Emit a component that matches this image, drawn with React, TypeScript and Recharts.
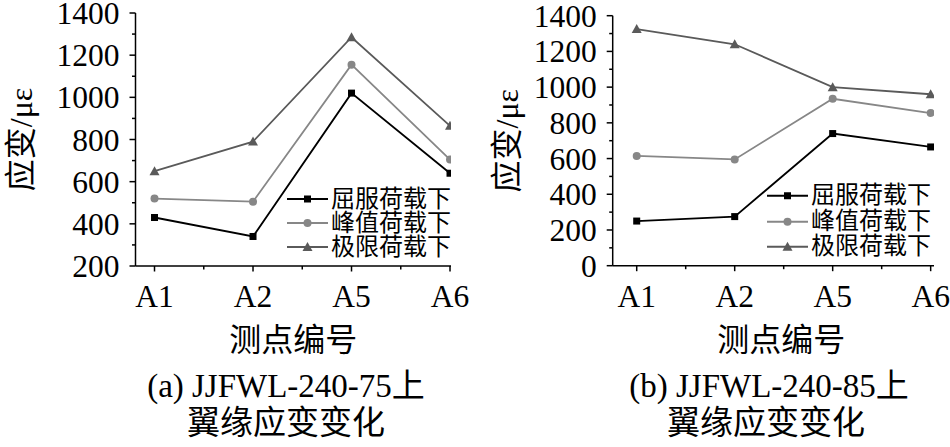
import React from 'react';
import { LineChart, Line, XAxis, YAxis, Legend, Label } from 'recharts';

const categories = ['A1', 'A2', 'A5', 'A6'];
const seriesNames = ['屈服荷载下', '峰值荷载下', '极限荷载下'];
const leftYield = [430, 340, 1020, 640];
const leftPeak = [520, 505, 1155, 705];
const leftUltimate = [650, 790, 1285, 865];
const rightYield = [250, 275, 740, 665];
const rightPeak = [615, 595, 935, 855];
const rightUltimate = [1325, 1240, 1000, 960];
const leftYTicks = [200, 300, 400, 500, 600, 700, 800, 900, 1000, 1100, 1200, 1300, 1400];
const rightYTicks = [0, 100, 200, 300, 400, 500, 600, 700, 800, 900, 1000, 1100, 1200, 1300, 1400];
const xTicks = [1, 1.5, 2, 2.5, 3, 3.5, 4];
const xTitle = '测点编号';
const yTitle = '应变/με';
const captionA = ['(a) JJFWL-240-75上', '翼缘应变变化'];
const captionB = ['(b) JJFWL-240-85上', '翼缘应变变化'];

const FONT = '"Liberation Serif", "Times New Roman", "Noto Sans CJK SC", serif';
const COLORS: Record<string, string> = { yield: '#000000', peak: '#878787', ultimate: '#5a5a5a' };
const KINDS: Record<string, string> = { yield: 'square', peak: 'circle', ultimate: 'triangle' };

const Marker = ({ kind, cx, cy, color }: any) => {
  if (cx == null || cy == null) return <g />;
  if (kind === 'square') return <rect x={cx - 3.5} y={cy - 3.5} width={7} height={7} fill={color} />;
  if (kind === 'circle') return <circle cx={cx} cy={cy} r={4} fill={color} />;
  return <polygon points={`${cx},${cy - 5} ${cx + 5},${cy + 4} ${cx - 5},${cy + 4}`} fill={color} />;
};

const buildData = (a: number[], b: number[], c: number[]) =>
  categories.map((cat, i) => ({ x: i + 1, cat, yield: a[i], peak: b[i], ultimate: c[i] }));

const YTick = (props: any) => {
  const { x, y, payload } = props;
  const v = payload.value;
  const major = v % 200 === 0;
  return (
    <g>
      <line x1={x - (major ? 6 : 3.5)} x2={x} y1={y} y2={y} stroke="#000" strokeWidth={1.5} />
      {major && (
        <text x={x - 16} y={y} dy="0.35em" textAnchor="end" fontSize={31.5} fontFamily={FONT} fill="#000">
          {v}
        </text>
      )}
    </g>
  );
};

const XTick = (props: any) => {
  const { x, y, payload } = props;
  const v = payload.value;
  const major = Number.isInteger(v);
  return (
    <g>
      <line x1={x} x2={x} y1={y} y2={y + (major ? 5.5 : 3.5)} stroke="#000" strokeWidth={1.5} />
      {major && (
        <text x={x} y={y + 41} textAnchor="middle" fontSize={31.5} fontFamily={FONT} fill="#000">
          {categories[v - 1]}
        </text>
      )}
    </g>
  );
};

const LegendContent = ({ payload, rowH }: any) => (
  <div style={{ fontFamily: FONT }}>
    {(payload || []).map((entry: any) => {
      const key = entry.dataKey as string;
      return (
        <div key={key} style={{ display: 'flex', alignItems: 'center', height: rowH }}>
          <svg width={44} height={rowH} style={{ display: 'block' }}>
            <line x1={0} x2={41} y1={rowH / 2} y2={rowH / 2} stroke={COLORS[key]} strokeWidth={1.8} />
            <Marker kind={KINDS[key]} cx={20.5} cy={rowH / 2} color={COLORS[key]} />
          </svg>
          <span style={{ fontSize: 24, lineHeight: `${rowH}px`, color: '#000', whiteSpace: 'nowrap' }}>{entry.value}</span>
        </div>
      );
    })}
  </div>
);

const Panel = ({ data, yTicks, yDomain, xDomain, margin, yWidth, legendPos, rowH, yTitleX, xTitleDx }: any) => (
  <LineChart width={470} height={447} data={data} margin={margin}>
    <XAxis
      dataKey="x"
      type="number"
      domain={xDomain}
      ticks={xTicks}
      interval={0}
      tick={<XTick />}
      tickLine={false}
      tickSize={0}
      tickMargin={0}
      height={447 - margin.top - (margin.plotH as number)}
      axisLine={{ stroke: '#000', strokeWidth: 1.5 }}
      allowDataOverflow
    >
      <Label
        content={(p: any) => {
          const vb = p.viewBox;
          return (
            <text x={vb.x + vb.width / 2 + xTitleDx} y={vb.y + 74} textAnchor="middle" dominantBaseline="central" fontSize={32} fontFamily={FONT} fill="#000">
              {xTitle}
            </text>
          );
        }}
      />
    </XAxis>
    <YAxis
      type="number"
      domain={yDomain}
      ticks={yTicks}
      interval={0}
      tick={<YTick />}
      tickLine={false}
      tickSize={0}
      tickMargin={0}
      width={yWidth}
      axisLine={{ stroke: '#000', strokeWidth: 1.5 }}
      allowDataOverflow
    >
      <Label
        content={(p: any) => {
          const vb = p.viewBox;
          const cy = vb.y + vb.height / 2;
          return (
            <text x={yTitleX} y={cy} transform={`rotate(-90 ${yTitleX} ${cy})`} textAnchor="middle" dominantBaseline="central" fontSize={32} fontFamily={FONT} fill="#000">
              {yTitle}
            </text>
          );
        }}
      />
    </YAxis>
    <Legend
      layout="vertical"
      align="center"
      verticalAlign="middle"
      wrapperStyle={{ position: 'absolute', left: legendPos.left, top: legendPos.top, width: 190 }}
      content={(p: any) => <LegendContent payload={p.payload} rowH={rowH} />}
    />
    {['yield', 'peak', 'ultimate'].map((k, i) => (
      <Line
        key={k}
        dataKey={k}
        name={seriesNames[i]}
        stroke={COLORS[k]}
        strokeWidth={1.8}
        isAnimationActive={false}
        dot={(dp: any) => <Marker key={`${k}-${dp.index}`} kind={KINDS[k]} cx={dp.cx} cy={dp.cy} color={COLORS[k]} />}
        activeDot={false}
      />
    ))}
  </LineChart>
);

const Caption = ({ lines, cx1, cx2 }: any) => (
  <>
    <div style={{ position: 'absolute', left: cx1 - 200, top: 386 - 20, width: 400, height: 40, lineHeight: '40px', textAlign: 'center', fontSize: 33, fontFamily: FONT, color: '#000', whiteSpace: 'nowrap' }}>
      {lines[0]}
    </div>
    <div style={{ position: 'absolute', left: cx2 - 200, top: 423 - 20, width: 400, height: 40, lineHeight: '40px', textAlign: 'center', fontSize: 33, fontFamily: FONT, color: '#000', whiteSpace: 'nowrap' }}>
      {lines[1]}
    </div>
  </>
);

export default function App() {
  const leftData = buildData(leftYield, leftPeak, leftUltimate);
  const rightData = buildData(rightYield, rightPeak, rightUltimate);
  return (
    <div style={{ position: 'absolute', left: 0, top: 0, width: 950, height: 447, background: '#fff', overflow: 'hidden' }}>
      <div style={{ position: 'absolute', left: 0, top: 0 }}>
        <Panel
          data={leftData}
          yTicks={leftYTicks}
          yDomain={[200, 1400]}
          xDomain={[0.807, 4.01]}
          margin={{ top: 13, right: 19, left: 0, bottom: 0, plotH: 253 }}
          yWidth={135.5}
          legendPos={{ left: 287, top: 187 }}
          rowH={24}
          yTitleX={21}
          xTitleDx={0}
        />
      </div>
      <div style={{ position: 'absolute', left: 480, top: 0 }}>
        <Panel
          data={rightData}
          yTicks={rightYTicks}
          yDomain={[0, 1400]}
          xDomain={[0.755, 4.034]}
          margin={{ top: 15.7, right: 16, left: 0, bottom: 0, plotH: 250 }}
          yWidth={132.7}
          legendPos={{ left: 287, top: 183 }}
          rowH={25.5}
          yTitleX={27}
          xTitleDx={8}
        />
      </div>
      <Caption lines={captionA} cx1={286} cx2={286} />
      <Caption lines={captionB} cx1={769} cx2={766} />
    </div>
  );
}
